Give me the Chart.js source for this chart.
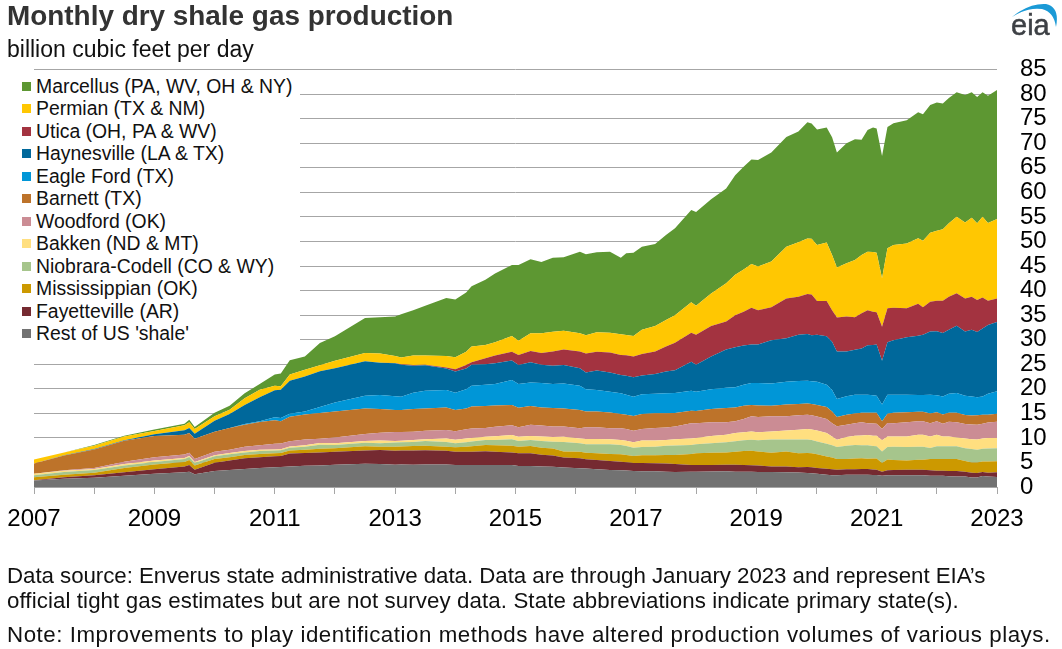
<!DOCTYPE html>
<html>
<head>
<meta charset="utf-8">
<title>Monthly dry shale gas production</title>
<script src="https://cdn.jsdelivr.net/npm/chart.js@4/dist/chart.umd.min.js"></script>
<style>
    html, body { margin: 0; padding: 0; background: #fff; }
    body { width: 1062px; height: 649px; position: relative; overflow: hidden; font-family: "Liberation Sans", Arial, sans-serif; color: #000; }
    canvas { position: absolute; left: 0; top: 0; }
    .abs { position: absolute; white-space: nowrap; }
    #title { left: 7px; top: 0px; font-size: 27.9px; line-height: 32px; font-weight: bold; color: #333; }
    #subtitle { left: 7px; top: 36px; font-size: 23px; line-height: 26px; color: #111; }
    #legend { left: 0; top: 73px; width: 300px; height: 275px; background: #fff; }
    .row { position: absolute; left: 22px; height: 22px; line-height: 22px; font-size: 19.4px; white-space: nowrap; color: #111; }
    .row i { display: inline-block; width: 9px; height: 9px; margin-right: 5px; vertical-align: 2px; }
    .note { left: 7px; font-size: 22.3px; line-height: 24px; color: #111; }
    #eia { left: 1011px; top: 9px; font-size: 29px; line-height: 32px; color: #3d4045; -webkit-text-stroke: 0.5px #3d4045; }
    svg { position: absolute; left: 0; top: 0; }
</style>
</head>
<body>
<canvas id="shaleChart" width="1062" height="649"></canvas>
<div class="abs" id="title">Monthly dry shale gas production</div>
<div class="abs" id="subtitle">billion cubic feet per day</div>
<div class="abs" id="legend"></div>
<div class="abs note" style="top:564px;letter-spacing:-0.05px">Data source: Enverus state administrative data. Data are through January 2023 and represent EIA’s</div>
<div class="abs note" style="top:589px;letter-spacing:0.09px">official tight gas estimates but are not survey data. State abbreviations indicate primary state(s).</div>
<div class="abs note" style="top:623px;letter-spacing:0.54px">Note: Improvements to play identification methods have altered production volumes of various plays.</div>
<svg width="1062" height="60"><path d="M1012,17 Q1029,3 1046,4 Q1060,7 1056,27 Q1054,12 1042,9 Q1027,7 1012,17 Z" fill="#1b9ad6"/></svg>
<div class="abs" id="eia">eia</div>

<script>
// sample dates, in decimal years
const dates = [2007, 2007.5, 2008, 2008.5, 2009, 2009.5, 2009.58, 2009.67, 2010, 2010.25,
    2010.5, 2010.75, 2011, 2011.1, 2011.25, 2011.5, 2011.75, 2012, 2012.5, 2012.75,
    2013, 2013.1, 2013.3, 2013.5, 2013.85, 2014, 2014.18, 2014.27, 2014.5, 2014.66,
    2014.94, 2015.05, 2015.25, 2015.43, 2015.62, 2015.8, 2016.07, 2016.17, 2016.35, 2016.57,
    2016.75, 2016.84, 2016.96, 2017.1, 2017.32, 2017.5, 2017.65, 2017.92, 2018, 2018.25,
    2018.5, 2018.65, 2018.79, 2018.92, 2019.03, 2019.25, 2019.5, 2019.7, 2019.85, 2019.92,
    2020.01, 2020.17, 2020.26, 2020.34, 2020.5, 2020.64, 2020.75, 2020.85, 2020.94, 2021,
    2021.09, 2021.18, 2021.28, 2021.5, 2021.69, 2021.77, 2021.89, 2022, 2022.1, 2022.2,
    2022.33, 2022.47, 2022.58, 2022.67, 2022.76, 2022.85, 2023];

// billion cubic feet per day
const rest = [1.3, 1.7, 1.9, 2.3, 2.7, 3, 3.1, 2.6, 3.25, 3.45,
    3.65, 3.85, 4, 4.05, 4.2, 4.35, 4.4, 4.55, 4.75, 4.7,
    4.55, 4.6, 4.55, 4.6, 4.6, 4.5, 4.5, 4.5, 4.5, 4.5,
    4.5, 4.3, 4.3, 4.15, 4.1, 3.95, 3.8, 3.75, 3.6, 3.45,
    3.4, 3.35, 3.25, 3.2, 3.2, 3.1, 3.05, 3.1, 3.1, 3.15,
    3.2, 3.1, 3.1, 3.1, 3.05, 3.05, 3, 2.95, 2.85, 2.8,
    2.7, 2.5, 2.4, 2.4, 2.5, 2.5, 2.5, 2.5, 2.45, 2.45,
    2.3, 2.4, 2.4, 2.4, 2.4, 2.4, 2.3, 2.3, 2.3, 2.2,
    2.15, 2.15, 1.95, 1.95, 2.25, 2.15, 2.05];
const fayetteville = [0.1, 0.3, 0.5, 0.7, 0.9, 1.2, 1.4, 0.9, 1.7, 1.95,
    2.2, 2.2, 2.25, 2.25, 2.6, 2.55, 2.65, 2.65, 2.7, 2.85,
    2.85, 2.85, 2.9, 2.9, 2.8, 2.7, 2.7, 2.7, 2.8, 2.7,
    2.55, 2.55, 2.55, 2.4, 2.3, 2.05, 2.05, 1.9, 1.9, 1.85,
    1.75, 1.7, 1.65, 1.7, 1.65, 1.7, 1.65, 1.4, 1.4, 1.35,
    1.35, 1.45, 1.4, 1.35, 1.35, 1.1, 1.2, 1.05, 1.2, 1.2,
    1.15, 1.2, 1.2, 1.1, 1.1, 1.1, 1.15, 1.15, 1.1, 1.05,
    0.8, 1, 1.05, 1.1, 1.1, 1.1, 1.1, 1, 1, 1.05,
    1.1, 0.95, 0.95, 0.9, 0.8, 0.75, 0.95];
const mississippian = [0.6, 0.5, 0.5, 0.85, 1, 0.9, 1, 0.9, 0.75, 0.65,
    0.65, 0.65, 0.6, 0.6, 0.65, 0.7, 0.75, 0.7, 0.85, 0.65,
    0.8, 0.8, 0.9, 0.9, 0.8, 0.9, 1, 1.1, 1.25, 1.3,
    1.35, 1.35, 1.5, 1.45, 1.45, 1.25, 1.35, 1.35, 1.35, 1.4,
    1.5, 1.45, 1.4, 1.55, 1.6, 1.7, 1.8, 2.2, 2.35, 2.45,
    2.5, 2.65, 2.85, 2.95, 2.85, 2.85, 3.05, 2.85, 2.85, 2.85,
    2.8, 2.5, 2.4, 2.2, 2.1, 2.2, 2.2, 2.1, 2.25, 2.3,
    1.8, 2.2, 2.05, 1.9, 2.05, 2.05, 2.3, 2.4, 2.4, 2.45,
    2.45, 2.2, 2.1, 2.15, 2.15, 2.3, 2.25];
const niobrara = [0.4, 0.55, 0.55, 0.55, 0.5, 0.6, 0.6, 0.5, 0.55, 0.6,
    0.55, 0.65, 0.6, 0.6, 0.55, 0.6, 0.8, 0.65, 0.7, 0.7,
    0.85, 0.85, 0.8, 0.95, 0.95, 0.8, 0.9, 0.95, 1, 1.05,
    1.3, 1.15, 1.2, 1.35, 1.35, 1.9, 1.7, 1.7, 1.85, 2,
    1.9, 1.85, 1.7, 1.7, 1.75, 1.9, 1.95, 1.85, 1.85, 1.95,
    2.05, 2.1, 2.15, 2.2, 2.25, 2.65, 2.4, 2.8, 2.75, 2.7,
    2.6, 2.6, 2.5, 2.45, 2.7, 2.75, 2.65, 2.75, 2.55, 2.5,
    2.35, 2.55, 2.7, 2.75, 2.65, 2.65, 2.25, 2.6, 2.6, 2.6,
    2.6, 2.6, 2.75, 2.6, 2.6, 2.65, 2.65];
const bakken = [0.3, 0.25, 0.2, 0.3, 0.3, 0.2, 0.2, 0.2, 0.2, 0.25,
    0.3, 0.25, 0.2, 0.2, 0.25, 0.3, 0.35, 0.35, 0.35, 0.55,
    0.3, 0.3, 0.4, 0.35, 0.75, 0.7, 0.8, 0.75, 0.7, 0.8,
    0.9, 0.9, 0.85, 0.95, 1, 1.1, 1, 1.1, 1.1, 1,
    1, 1.05, 1.1, 1.3, 1.25, 1.15, 1.25, 1.35, 1.3, 1.5,
    1.55, 1.7, 1.65, 1.7, 1.65, 1.65, 1.85, 2, 2.15, 2.15,
    2.25, 2.2, 1.8, 1.45, 1.8, 1.9, 2, 2.1, 2.1, 2.15,
    2.25, 2.15, 2.1, 2.15, 2.45, 2.45, 2.35, 2.35, 2, 2,
    1.8, 2, 1.95, 2.05, 2.1, 2.15, 2.1];
const woodford = [0, 0.1, 0.2, 0.45, 0.65, 0.7, 0.7, 0.6, 0.75, 0.7,
    0.85, 0.9, 1.15, 1.15, 1.05, 1.15, 0.9, 1.2, 1.45, 1.6,
    1.85, 1.8, 1.7, 1.75, 1.7, 1.75, 1.85, 1.9, 1.75, 1.9,
    1.95, 1.9, 2.3, 2.2, 2.1, 2.05, 2.05, 2.35, 2.35, 2.25,
    2.4, 2.4, 2.35, 2.35, 2.55, 2.55, 2.6, 3.1, 3, 2.8,
    2.55, 2.4, 2.7, 3.1, 3.1, 3.1, 2.9, 2.95, 2.9, 2.9,
    2.85, 2.85, 2.7, 2.75, 2.5, 2.55, 2.7, 2.4, 2.5, 2.45,
    2.3, 2.75, 2.7, 2.9, 2.75, 2.75, 2.7, 2.75, 2.6, 3,
    3.1, 2.95, 3.05, 3.05, 3, 3.15, 3.3];
const barnett = [2.1, 3, 3.8, 4.25, 4.35, 4.05, 4, 4.15, 4.05, 4.4,
    4.5, 4.75, 4.8, 4.55, 5, 5.1, 5.2, 5.3, 5.2, 4.85,
    4.5, 4.5, 4.65, 4.55, 4.6, 4.35, 4.25, 4.5, 4.5, 4.35,
    4.15, 4, 3.8, 3.7, 3.8, 3.7, 3.75, 3.2, 3.2, 3.2,
    2.9, 2.9, 3, 3.05, 3, 2.9, 2.75, 2.55, 2.5, 2.7,
    2.9, 2.8, 2.7, 2.3, 2.35, 2.15, 2.4, 2.3, 2.3, 2.3,
    2.35, 2.45, 2.35, 1.9, 2, 1.95, 1.9, 2.1, 2.15, 2.2,
    1.6, 1.85, 2.1, 2, 1.9, 1.9, 1.95, 1.8, 1.85, 1.8,
    1.9, 1.8, 1.8, 1.9, 1.8, 1.55, 1.6];
const eagleFord = [0, 0, 0, 0, 0, 0, 0, 0, 0, 0,
    0.15, 0.15, 0.6, 0.65, 0.6, 0.65, 1.25, 1.8, 2.6, 2.85,
    2.8, 2.7, 3.3, 3.6, 3.55, 3.5, 3.9, 4.2, 4.3, 4.4,
    5.1, 4.85, 4.8, 5, 4.9, 5.1, 4.9, 4.55, 4.4, 4.25,
    4.25, 4.1, 3.95, 4.05, 4, 4.1, 4.1, 4.05, 3.9, 4,
    4.1, 4.1, 4.25, 4.5, 4.6, 4.55, 4.65, 4.7, 4.65, 4.65,
    4.75, 4.5, 4.4, 3.65, 3.8, 3.85, 3.7, 3.7, 3.6, 3.5,
    3.4, 3.9, 3.7, 3.6, 3.45, 3.45, 3.85, 3.5, 3.7, 3.9,
    4.05, 3.95, 3.9, 3.7, 3.75, 4.3, 4.6];
const haynesville = [0, 0.05, 0.1, 0.1, 0.35, 0.9, 1, 1, 2.25, 2.85,
    3.85, 4.9, 5.5, 5.75, 6.75, 7.1, 7.25, 7, 7, 6.55,
    6.7, 6.5, 5.5, 5.2, 4.4, 4.3, 4.25, 4.3, 4.2, 4.2,
    3.95, 3.85, 4.1, 3.7, 3.7, 3.75, 3.6, 3.4, 3.95, 3.9,
    3.7, 3.85, 3.95, 3.8, 4, 4.4, 4.65, 5.9, 5.5, 6.7,
    7.8, 8.15, 8, 7.8, 7.8, 8.8, 8.85, 9.4, 9.5, 9.35,
    9.55, 9.9, 9.85, 9.7, 9.1, 9.15, 9.4, 10.05, 10.2, 10.4,
    8.9, 10.7, 11.1, 11.7, 12.05, 12.25, 12.85, 13, 12.9, 13,
    13.7, 13.05, 13.55, 13.25, 13.85, 14, 14.1];
const utica = [0, 0, 0, 0, 0, 0, 0, 0, 0, 0,
    0, 0, 0, 0, 0, 0, 0, 0, 0, 0,
    0.05, 0.1, 0.15, 0.1, 0.2, 0.5, 0.7, 0.5, 1.2, 1.6,
    1.8, 2.05, 2.3, 2.4, 2.9, 3.15, 3.4, 3.9, 3.85, 4.1,
    4.1, 4.2, 4.2, 4.4, 4.6, 5.1, 5.6, 5.9, 6.1, 6.2,
    5.7, 6.55, 6.9, 7.5, 7, 6.7, 8.1, 7.75, 8.15, 8.3,
    6.9, 7.2, 6.4, 6.9, 7.1, 6.6, 7.2, 7.15, 6.8, 6.6,
    6.95, 6.9, 6.6, 5.9, 6.5, 5.6, 6.1, 6.25, 6.6, 6.75,
    6.6, 6.75, 6.75, 6.55, 6.3, 4.95, 4.8];
const permian = [0.8, 0.6, 0.65, 0.8, 0.65, 1.05, 1.2, 0.95, 0.9, 0.9,
    1.35, 1.5, 0.9, 0.7, 1.25, 1.4, 1.25, 1.5, 1.7, 1.9,
    1.45, 1.35, 1.95, 1.9, 2.35, 2.4, 2.7, 3.2, 2.7, 2.7,
    3.2, 2.9, 3.6, 4, 4, 3.8, 3.7, 3.7, 3.95, 4,
    4.2, 4.1, 4.2, 4.9, 5.2, 5.4, 5.6, 6.2, 5.9, 6.6,
    7.8, 8.2, 8.6, 8.9, 8.9, 9.3, 10.5, 11.1, 11.3, 11.35,
    11.4, 11.9, 11.25, 10.2, 10.85, 11.7, 11.85, 11.9, 12.15, 12.1,
    9.85, 12.2, 12.8, 13.2, 13.35, 13.55, 14.05, 14.25, 14.55, 14.95,
    15.6, 15.45, 16.1, 15.6, 16.45, 15.8, 16.2];
const marcellus = [0, 0, 0.15, 0.15, 0.3, 0.3, 0.5, 0.4, 0.7, 0.8,
    1.05, 1.2, 2.3, 2.6, 2.9, 2.7, 4.5, 5, 7.1, 7.35,
    8, 8.85, 9.2, 10.1, 11.8, 11.8, 12.05, 12.3, 13.3, 14,
    14.45, 15.4, 15.1, 14.5, 15.1, 15, 16.6, 16.5, 16.3, 16.5,
    15.6, 16.65, 16.95, 16.95, 16.7, 17.3, 17.7, 18.8, 19.1, 19.2,
    19.3, 20.3, 20.9, 21.3, 21.7, 22.2, 22.4, 22.55, 23.7, 23.45,
    23.5, 23.4, 23.95, 23.4, 24.45, 24.55, 23.45, 24.8, 25.35, 25.3,
    24.9, 24.7, 24.8, 25.1, 25.65, 25.75, 26, 26.1, 25.6, 25.5,
    25.35, 26, 25.55, 25.7, 25.35, 25.95, 26.25];

const yTicks = [0, 5, 10, 15, 20, 25, 30, 35, 40, 45, 50, 55, 60, 65, 70, 75, 80, 85];
const yearLabels = [2007, 2009, 2011, 2013, 2015, 2017, 2019, 2021, 2023];

// bottom of the stack first, the legend lists them the other way round
const plays = [
    { name: "Rest of US 'shale'", values: rest, color: '#727272' },
    { name: 'Fayetteville (AR)', values: fayetteville, color: '#752A31' },
    { name: 'Mississippian (OK)', values: mississippian, color: '#CC9900' },
    { name: 'Niobrara-Codell (CO & WY)', values: niobrara, color: '#A6C58C' },
    { name: 'Bakken (ND & MT)', values: bakken, color: '#FFDF80' },
    { name: 'Woodford (OK)', values: woodford, color: '#CB8C94' },
    { name: 'Barnett (TX)', values: barnett, color: '#BD732A' },
    { name: 'Eagle Ford (TX)', values: eagleFord, color: '#0096D7' },
    { name: 'Haynesville (LA & TX)', values: haynesville, color: '#00689B' },
    { name: 'Utica (OH, PA & WV)', values: utica, color: '#A33340' },
    { name: 'Permian (TX & NM)', values: permian, color: '#FFC702' },
    { name: 'Marcellus (PA, WV, OH & NY)', values: marcellus, color: '#5D9732' }
];

// legend
const legend = document.getElementById('legend');
plays.slice().reverse().forEach((play, i) => {
    const row = document.createElement('div');
    row.className = 'row';
    row.style.top = (2 + i * 22.45) + 'px';
    const swatch = document.createElement('i');
    swatch.style.background = play.color;
    row.appendChild(swatch);
    row.appendChild(document.createTextNode(play.name));
    legend.appendChild(row);
});

const gridGray = '#A6A6A6';

new Chart(document.getElementById('shaleChart'), {
    type: 'line',
    data: {
        datasets: plays.map((play, i) => ({
            label: play.name,
            data: dates.map((d, j) => ({ x: d, y: play.values[j] })),
            backgroundColor: play.color,
            borderWidth: 0,
            pointRadius: 0,
            tension: 0,
            fill: i === 0 ? 'origin' : '-1'
        }))
    },
    options: {
        responsive: false,
        animation: false,
        devicePixelRatio: 1,
        layout: { autoPadding: false, padding: { left: 34, top: 69.6, right: 0, bottom: 0 } },
        plugins: { legend: { display: false }, tooltip: { enabled: false } },
        scales: {
            x: {
                type: 'linear',
                min: 2007,
                max: 2023,
                grid: { drawOnChartArea: false, color: gridGray, tickLength: 7 },
                border: { color: gridGray },
                ticks: {
                    stepSize: 1,
                    maxRotation: 0,
                    autoSkip: false,
                    padding: 11,
                    color: '#000',
                    font: { family: '"Liberation Sans"', size: 24 },
                    callback: v => yearLabels.includes(v) ? String(v) : ''
                },
                // the tick padding must not push the plot area to the right
                afterFit: scale => { scale.height = 162; scale.paddingLeft = 0; scale.paddingRight = 0; }
            },
            y: {
                position: 'right',
                stacked: true,
                min: 0,
                max: 85,
                grid: { color: gridGray, drawTicks: false },
                border: { display: false },
                afterBuildTicks: scale => { scale.ticks = yTicks.map(v => ({ value: v })); },
                ticks: {
                    autoSkip: false,
                    padding: 23,
                    color: '#000',
                    font: { family: '"Liberation Sans"', size: 24 }
                },
                afterFit: scale => { scale.width = 65; }
            }
        }
    }
});
</script>
</body>
</html>
